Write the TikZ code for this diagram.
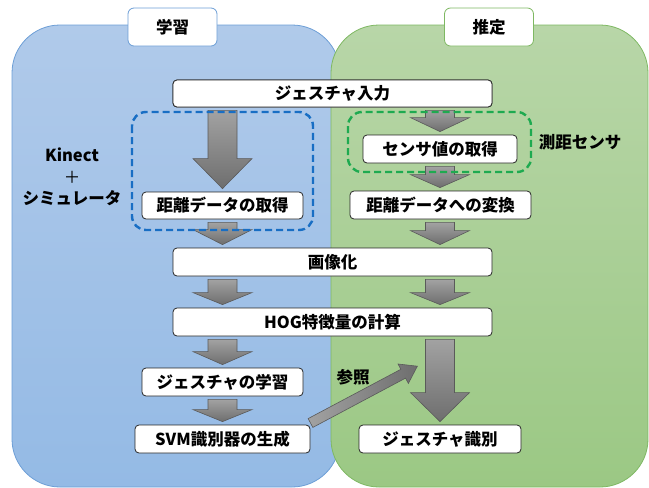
\documentclass[tikz,border=0pt]{standalone}
\usepackage{fontspec}
\setmainfont{Noto Sans CJK JP}
\usetikzlibrary{calc}
\definecolor{bluetop}{RGB}{176,202,234}
\definecolor{bluebot}{RGB}{148,186,229}
\definecolor{blueline}{RGB}{108,158,214}
\definecolor{greentop}{RGB}{184,214,168}
\definecolor{greenbot}{RGB}{155,200,132}
\definecolor{greenline}{RGB}{126,184,98}
\definecolor{dashblue}{RGB}{24,110,196}
\definecolor{dashgreen}{RGB}{30,170,80}
\definecolor{arrtop}{RGB}{162,162,162}
\definecolor{arrbot}{RGB}{110,110,110}
\definecolor{arrline}{RGB}{90,90,90}
\tikzset{
  stepbox/.style={draw=black!85, fill=white, rounded corners=4pt, line width=0.8pt,
    font=\fontsize{16.5}{19}\selectfont\bfseries, inner sep=0pt},
  tabbox/.style={fill=white, rounded corners=6pt, line width=0.8pt,
    minimum width=89pt, minimum height=38pt, inner sep=0pt,
    font=\fontsize{16.5}{19}\selectfont\bfseries},
  lbl/.style={font=\fontsize{16.5}{19}\selectfont\bfseries, inner sep=0pt},
  garrowstyle/.style={top color=arrtop, bottom color=arrbot, draw=arrline, line width=0.6pt},
  dashbox/.style={dashed, dash pattern=on 7pt off 4pt, line width=2.4pt, rounded corners=14pt}
}
\newcommand{\garrow}[4]{%
  \path[garrowstyle] let \p1=(#2.south), \p2=(#3.north) in
    (#1pt-14.5pt,\y1-3pt) -- (#1pt-14.5pt,\y2+3pt+#4pt) -- (#1pt-29.5pt,\y2+3pt+#4pt)
    -- (#1pt,\y2+3pt) -- (#1pt+29.5pt,\y2+3pt+#4pt) -- (#1pt+14.5pt,\y2+3pt+#4pt)
    -- (#1pt+14.5pt,\y1-3pt) -- cycle;}
\begin{document}
\begin{tikzpicture}[x=1pt,y=-1pt]
\useasboundingbox (0,0) rectangle (649,488);
% panels
\path[top color=bluetop, bottom color=bluebot, draw=blueline, line width=0.8pt, rounded corners=48pt]
  (12,25) rectangle (340,487);
\path[top color=greentop, bottom color=greenbot, draw=greenline, line width=0.8pt, rounded corners=48pt]
  (331,25) rectangle (648,487);
\node[tabbox, draw=blueline] (tabL) at (172.5,27) {学習};
\node[tabbox, draw=greenline] (tabR) at (489,27) {推定};
% step boxes
\node[stepbox, minimum width=319pt, minimum height=27pt] (in) at (332.5,93.5) {ジェスチャ入力};
\node[stepbox, minimum width=161pt, minimum height=27pt] (dist) at (222.5,205.5) {距離データの取得};
\node[stepbox, minimum width=154pt, minimum height=28pt] (sens) at (440,149) {センサ値の取得};
\node[stepbox, minimum width=181pt, minimum height=28pt] (conv) at (440.5,205) {距離データへの変換};
\node[stepbox, minimum width=319pt, minimum height=28pt] (img) at (332.5,262) {画像化};
\node[stepbox, minimum width=319pt, minimum height=28pt] (hog) at (332.5,322) {HOG特徴量の計算};
\node[stepbox, minimum width=161pt, minimum height=28pt] (learn) at (222.5,382) {ジェスチャの学習};
\node[stepbox, minimum width=175pt, minimum height=28pt] (svm) at (222.5,439) {SVM識別器の生成};
\node[stepbox, minimum width=162pt, minimum height=28pt] (recog) at (440,439) {ジェスチャ識別};
% block arrows
\garrow{222.5}{in}{dist}{30}
\garrow{222.5}{dist}{img}{15}
\garrow{222.5}{img}{hog}{12}
\garrow{222.5}{hog}{learn}{13}
\garrow{222.5}{learn}{svm}{12}
\garrow{440}{in}{sens}{14}
\garrow{440}{sens}{conv}{13}
\garrow{440}{conv}{img}{14}
\garrow{440}{img}{hog}{12}
\garrow{440}{hog}{recog}{29}
% reference arrow
\coordinate (rs) at (310.5,423);
\begin{scope}[shift={(rs)}, rotate=28]
\path[left color=arrtop, right color=arrbot, draw=arrline, line width=0.6pt]
  (0pt,-5pt) -- (105pt,-5pt) -- (105pt,-11pt) -- (121pt,0pt) -- (105pt,11pt) -- (105pt,5pt) -- (0pt,5pt) -- cycle;
\end{scope}
% dashed groups
\draw[dashbox, draw=dashblue] (132,112) rectangle (313,230);
\draw[dashbox, draw=dashgreen] (348,112) rectangle (531,172);
% redraw box above dashed lines
\node[stepbox, minimum width=319pt, minimum height=27pt] at (in) {ジェスチャ入力};
% labels
\node[lbl] (kin) at (72,155) {Kinect};
\node[lbl, font=\fontsize{16.5}{19}\selectfont] (plus) at (72,177) {＋};
\node[lbl] (sim) at (72,198) {シミュレータ};
\node[lbl] (sensor) at (580,142) {測距センサ};
\node[lbl] (ref) at (353,377) {参照};
\end{tikzpicture}
\end{document}
